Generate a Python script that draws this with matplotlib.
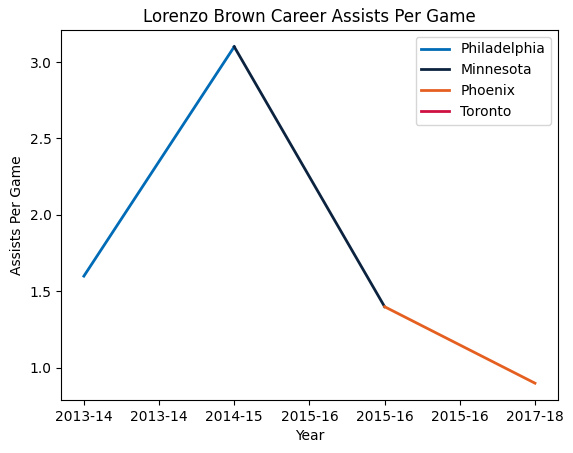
import matplotlib
matplotlib.use('Agg')
from matplotlib import pyplot as plt

# season index -> assists per game, one list per team
phi_x = [0, 1]
phi_apg = [1.6, 3.1]
min_x = [1, 2]
min_apg = [3.1, 1.4]
phx_x = [2, 3]
phx_apg = [1.4, 0.9]
tor_x = [3]
tor_apg = [0.9]

tick_pos = [0, 0.5, 1, 1.5, 2, 2.5, 3]
tick_labels = ['2013-14', '2013-14', '2014-15', '2015-16', '2015-16', '2015-16', '2017-18']

fig = plt.figure(figsize=(5.73, 4.53), dpi=100)
ax = fig.add_axes([0.107, 0.117, 0.866, 0.817])

ax.plot(phi_x, phi_apg, color='#006BB6', lw=2, label='Philadelphia')
ax.plot(min_x, min_apg, color='#0C2340', lw=2, label='Minnesota')
ax.plot(phx_x, phx_apg, color='#E56020', lw=2, label='Phoenix')
ax.plot(tor_x, tor_apg, color='#CE1141', lw=2, label='Toronto')

ax.set_xticks(tick_pos)
ax.set_xticklabels(tick_labels)
ax.set_yticks([1.0, 1.5, 2.0, 2.5, 3.0])

ax.set(xlabel='Year', ylabel='Assists Per Game')
ax.set_title('Lorenzo Brown Career Assists Per Game')
ax.legend(loc='upper right')

fig.savefig('out.png', dpi=100)
